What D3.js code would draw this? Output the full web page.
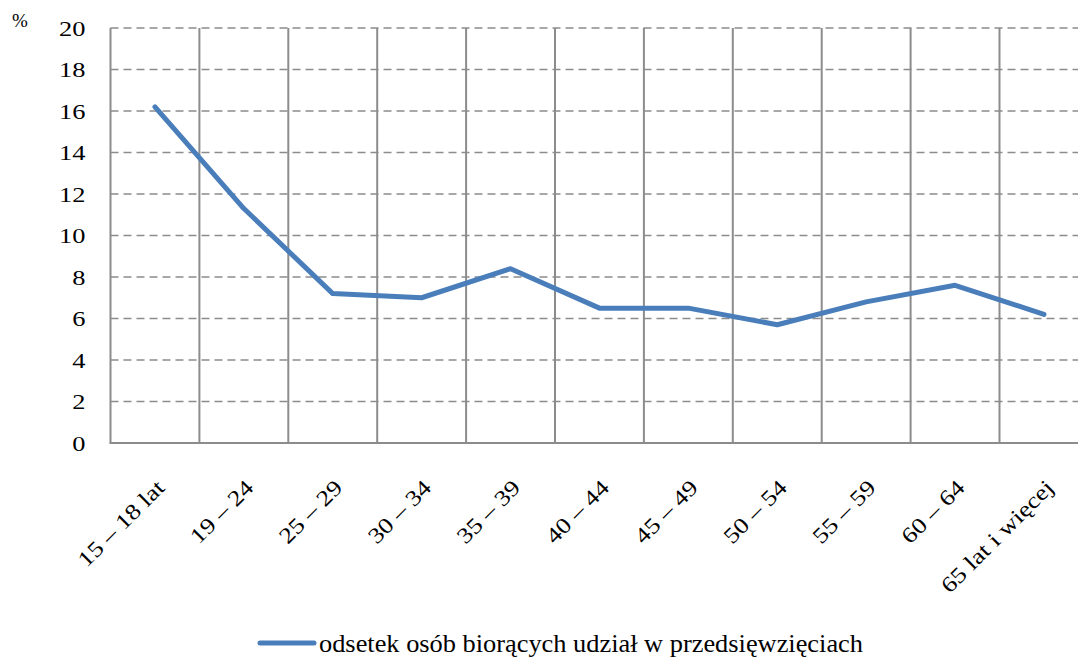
<!DOCTYPE html>
<html>
<head>
<meta charset="utf-8">
<script src="https://cdn.jsdelivr.net/npm/d3@7/dist/d3.min.js"></script>
<style>
  html, body { margin: 0; padding: 0; background: #fff; }
  svg { display: block; }
  text { font-family: "Liberation Serif", "Times New Roman", serif; fill: #000; }
</style>
</head>
<body>
<svg id="chart" width="1078" height="659"></svg>
<script>
// Age groups and share of people taking part (%)
const categories = ["15 – 18 lat", "19 – 24", "25 – 29", "30 – 34", "35 – 39", "40 – 44",
                    "45 – 49", "50 – 54", "55 – 59", "60 – 64", "65 lat i więcej"];
const values = [16.2, 11.3, 7.2, 7.0, 8.4, 6.5, 6.5, 5.7, 6.8, 7.6, 6.2];
const yTicks = [0, 2, 4, 6, 8, 10, 12, 14, 16, 18, 20];
const seriesName = "odsetek osób biorących udział w przedsięwzięciach";
const unitLabel = "%";

const svg = d3.select("#chart");
const plot = { left: 110.5, top: 28, bottom: 443, step: 88.9 };
const gridColor = "#8c8c8c";
const lineColor = "#4a7ebb";
const labelFont = '"Liberation Serif", "Times New Roman", serif';

const x = d3.scaleBand()
  .domain(categories)
  .range([plot.left, plot.left + plot.step * categories.length])
  .paddingInner(0).paddingOuter(0);

const y = d3.scaleLinear().domain([0, 20]).range([plot.bottom, plot.top]);

// widen a text element along its baseline
function stretch(sel, k) {
  sel.each(function () {
    const len = this.getComputedTextLength();
    d3.select(this).attr("textLength", len * k).attr("lengthAdjust", "spacingAndGlyphs");
  });
}

// horizontal dashed gridlines
svg.append("g")
  .selectAll("line")
  .data(yTicks.filter(d => d > 0))
  .join("line")
  .attr("x1", plot.left).attr("x2", x.range()[1])
  .attr("y1", d => y(d)).attr("y2", d => y(d))
  .attr("stroke", gridColor)
  .attr("stroke-width", 1.6)
  .attr("stroke-dasharray", "8,5");

// vertical gridlines at category boundaries
svg.append("g")
  .selectAll("line")
  .data(categories)
  .join("line")
  .attr("x1", d => x(d)).attr("x2", d => x(d))
  .attr("y1", y(20)).attr("y2", y(0))
  .attr("stroke", gridColor)
  .attr("stroke-width", 2);

// bottom axis line
svg.append("line")
  .attr("x1", plot.left - 1).attr("x2", x.range()[1])
  .attr("y1", y(0)).attr("y2", y(0))
  .attr("stroke", gridColor).attr("stroke-width", 2);

// y axis labels
const yAxis = d3.axisLeft(y).tickValues(yTicks).tickSize(0).tickPadding(25).tickFormat(d3.format("d"));
const gy = svg.append("g").attr("transform", `translate(${plot.left},0)`).call(yAxis);
gy.select(".domain").remove();
gy.selectAll("text")
  .style("font-family", labelFont)
  .style("font-size", "22px")
  .attr("fill", "#000")
  .call(stretch, 1.2);

svg.append("text")
  .attr("x", 12).attr("y", 27)
  .style("font-size", "19px")
  .text(unitLabel);

// x axis labels rotated
const xAxis = d3.axisBottom(x).tickSize(0).tickPadding(0);
const gx = svg.append("g").attr("transform", `translate(0,${plot.bottom})`).call(xAxis);
gx.select(".domain").remove();
gx.selectAll("text")
  .style("font-family", labelFont)
  .style("font-size", "22px")
  .attr("fill", "#000")
  .attr("text-anchor", "end")
  .attr("dy", null)
  .attr("y", 0)
  .attr("transform", "translate(11,46) rotate(-45)")
  .call(stretch, 1.2);

// data line
const line = d3.line()
  .x((d, i) => x(categories[i]) + x.bandwidth() / 2)
  .y(d => y(d));

svg.append("path")
  .datum(values)
  .attr("fill", "none")
  .attr("stroke", lineColor)
  .attr("stroke-width", 5)
  .attr("stroke-linejoin", "round")
  .attr("stroke-linecap", "round")
  .attr("d", line);

// legend
const legend = svg.append("g").attr("transform", "translate(260,643)");
legend.append("line")
  .attr("x1", 0).attr("x2", 54)
  .attr("y1", 0).attr("y2", 0)
  .attr("stroke", lineColor).attr("stroke-width", 5)
  .attr("stroke-linecap", "round");
legend.append("text")
  .attr("x", 59).attr("y", 9)
  .style("font-size", "25px")
  .attr("textLength", 544)
  .attr("lengthAdjust", "spacingAndGlyphs")
  .text(seriesName);
</script>
</body>
</html>
